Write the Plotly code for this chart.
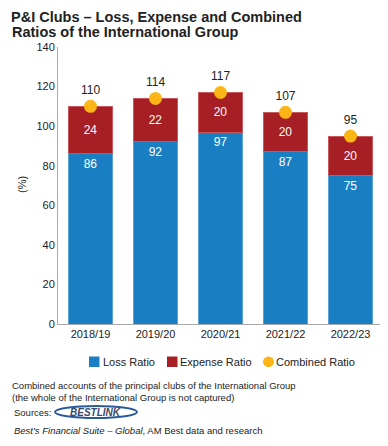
import plotly.graph_objects as go

categories = ["2018/19", "2019/20", "2020/21", "2021/22", "2022/23"]
loss_ratio = [86, 92, 97, 87, 75]
expense_ratio = [24, 22, 20, 20, 20]
combined_ratio = [110, 114, 117, 107, 95]
y_ticks = [0, 20, 40, 60, 80, 100, 120, 140]
series_names = ["Loss Ratio", "Expense Ratio", "Combined Ratio"]
title_lines = ["P&I Clubs – Loss, Expense and Combined", "Ratios of the International Group"]

# page offset of the figure (browser body margin)
OFF = 8
PAGE_W, PAGE_H = 388, 446
PLOT_X0, PLOT_X1, PLOT_Y0, PLOT_Y1 = 58, 383, 47, 324  # plot area in page pixels
W, H = PAGE_W - OFF, PAGE_H - OFF
L, R, T, B = PLOT_X0 - OFF, PAGE_W - PLOT_X1, PLOT_Y0 - OFF, PAGE_H - PLOT_Y1
PW, PH = PLOT_X1 - PLOT_X0, PLOT_Y1 - PLOT_Y0

def px(x):
    return (x - PLOT_X0) / PW

def py(y):
    return (PLOT_Y1 - y) / PH

FONT = "Liberation Sans, Arial, sans-serif"
BLUE = "#1a7fc2"
RED = "#a61f24"
YEL = "#fbb516"
TXT = "#222222"

fig = go.Figure()
fig.add_trace(go.Bar(
    x=categories, y=loss_ratio, name=series_names[0],
    marker=dict(color=BLUE, line=dict(color="#5aa3d6", width=1)),
    text=loss_ratio, textposition="inside", insidetextanchor="end",
    textfont=dict(color="white", size=12, family=FONT),
))
fig.add_trace(go.Bar(
    x=categories, y=expense_ratio, name=series_names[1],
    marker=dict(color=RED, line=dict(color="#c8585b", width=1)),
    text=expense_ratio, textposition="inside", insidetextanchor="middle",
    textfont=dict(color="white", size=12, family=FONT),
))
fig.add_trace(go.Scatter(
    x=categories, y=combined_ratio, name=series_names[2],
    mode="markers+text",
    marker=dict(color=YEL, size=13),
    text=combined_ratio, textposition="top center",
    textfont=dict(color=TXT, size=12, family=FONT),
))

def ann(x, y, text, size=9.5, xanchor="left", yanchor="middle", **kw):
    return dict(x=px(x), y=py(y), xref="paper", yref="paper", xanchor=xanchor, yanchor=yanchor,
                text=text, showarrow=False, align="left",
                font=dict(size=size, color=kw.pop("color", TXT), family=FONT), **kw)

annotations = [
    ann(10, 8, "<b>%s</b>" % title_lines[0], size=14.5, yanchor="top", borderpad=0),
    ann(10, 32, "<b>%s</b>" % title_lines[1], size=14.5),
    ann(22, 185, "(%)", size=11, xanchor="center", textangle=-90),
    ann(10, 378, "Combined accounts of the principal clubs of the International Group<br>(the whole of the International Group is not captured)",
        yanchor="top"),
    ann(12, 412, "Sources:"),
    ann(95, 412, "<b><i>BESTLINK</i></b>", size=10, xanchor="center", color="#3a4a6b"),
    ann(12, 430, "<i>Best's Financial Suite – Global</i>, AM Best data and research"),
    # legend texts
    ann(101, 362, series_names[0], size=11),
    ann(178, 362, series_names[1], size=11),
    ann(274, 362, series_names[2], size=11),
]

shapes = [
    dict(type="circle", xref="paper", yref="paper", x0=px(55), x1=px(137), y0=py(406), y1=py(418),
         line=dict(color="#2b5a9a", width=2), fillcolor="rgba(0,0,0,0)"),
    # legend symbols
    dict(type="rect", xref="paper", yref="paper", x0=px(89), x1=px(99.5), y0=py(356.5), y1=py(367),
         line=dict(width=0), fillcolor=BLUE),
    dict(type="rect", xref="paper", yref="paper", x0=px(167), x1=px(177.5), y0=py(356.5), y1=py(367),
         line=dict(width=0), fillcolor=RED),
    dict(type="circle", xref="paper", yref="paper", x0=px(263), x1=px(274), y0=py(356.5), y1=py(367),
         line=dict(width=0), fillcolor=YEL),
]

fig.update_layout(
    width=W, height=H,
    margin=dict(l=L, r=R, t=T, b=B, autoexpand=False),
    paper_bgcolor="white", plot_bgcolor="white",
    barmode="stack", bargap=0.333,
    font=dict(family=FONT, size=11, color=TXT),
    xaxis=dict(showline=True, linecolor="#aaaaaa", linewidth=1, ticks="", showgrid=False,
               tickfont=dict(size=11, color=TXT), automargin=False),
    yaxis=dict(range=[0, 140], tickvals=y_ticks, showline=True, linecolor="#aaaaaa", linewidth=1,
               ticks="", showgrid=False, zeroline=False, tickfont=dict(size=11, color=TXT),
               automargin=False),
    annotations=annotations, shapes=shapes,
    showlegend=False,
)

fig.write_html("out.html")
